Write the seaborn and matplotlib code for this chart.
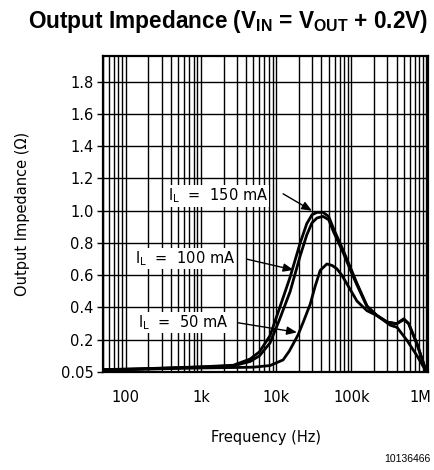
import numpy as np
import pandas as pd
import matplotlib
matplotlib.use("Agg")
import matplotlib.pyplot as plt
import matplotlib.transforms as mtransforms
import seaborn as sns
from matplotlib.ticker import FixedLocator, NullFormatter, LogLocator

# ---------------- data ----------------
freq_150 = [50, 100, 300, 1000, 2700, 4500, 6000, 8300, 11000, 15400, 20900,
            25600, 30000, 35000, 42000, 50000, 58000, 78000, 100000, 119000,
            162000, 220000, 300000, 400000, 500000, 580000, 750000, 1000000]
z_150 = [0.015, 0.018, 0.024, 0.032, 0.042, 0.08, 0.125, 0.225, 0.39, 0.59, 0.80,
         0.92, 0.975, 0.99, 0.99, 0.965, 0.89, 0.755, 0.635, 0.55,
         0.41, 0.35, 0.31, 0.30, 0.33, 0.30, 0.176, 0.0]

freq_100 = [50, 100, 300, 1000, 2700, 4500, 6000, 8300, 11000, 15400, 20900,
            25600, 30000, 35000, 42000, 50000, 58000, 78000, 100000, 119000,
            162000, 220000, 300000, 400000, 500000, 580000, 750000, 1000000]
z_100 = [0.014, 0.017, 0.023, 0.031, 0.038, 0.065, 0.10, 0.18, 0.32, 0.50, 0.72,
         0.85, 0.925, 0.955, 0.965, 0.945, 0.87, 0.74, 0.62, 0.54,
         0.405, 0.35, 0.31, 0.298, 0.325, 0.30, 0.17, 0.0]

freq_50 = [50, 100, 300, 1000, 3000, 5000, 8300, 12400, 15000, 19600, 23000,
           28400, 33000, 38600, 47400, 56000, 64400, 75000, 87700, 119000,
           162000, 220000, 331000, 406000, 553000, 751000, 1000000]
z_50 = [0.012, 0.014, 0.02, 0.025, 0.028, 0.03, 0.04, 0.075, 0.13, 0.23, 0.31,
        0.42, 0.53, 0.63, 0.67, 0.66, 0.64, 0.60, 0.546, 0.44,
        0.38, 0.35, 0.29, 0.277, 0.195, 0.10, 0.0]

series_labels = ["150 mA", "100 mA", "50 mA"]
ytick_vals = [0.0, 0.2, 0.4, 0.6, 0.8, 1.0, 1.2, 1.4, 1.6, 1.8]
ytick_labels = ["0.05", "0.2", "0.4", "0.6", "0.8", "1.0", "1.2", "1.4", "1.6", "1.8"]
xtick_vals = [100, 1000, 10000, 100000, 1000000]
xtick_labels = ["100", "1k", "10k", "100k", "1M"]

df = pd.concat([
    pd.DataFrame({"freq": freq_150, "z": z_150, "load": series_labels[0]}),
    pd.DataFrame({"freq": freq_100, "z": z_100, "load": series_labels[1]}),
    pd.DataFrame({"freq": freq_50, "z": z_50, "load": series_labels[2]}),
])

# ---------------- style ----------------
sns.set_style("white")
plt.rcParams["font.family"] = ["DejaVu Sans"]
plt.rcParams["text.color"] = "black"
plt.rcParams["axes.labelcolor"] = "black"
plt.rcParams["xtick.color"] = "black"
plt.rcParams["ytick.color"] = "black"

fig = plt.figure(figsize=(4.35, 4.70), dpi=100)
ax = fig.add_axes([0.237, 0.2085, 0.747, 0.6725])

sns.lineplot(data=df, x="freq", y="z", hue="load", hue_order=series_labels,
             palette=["black", "black", "black"], linewidth=2.0, legend=False,
             sort=False, ax=ax, zorder=3)

ax.set_xscale("log")
ax.set_xlim(50, 1.05e6)
ax.set_ylim(0, 1.96)

ax.xaxis.set_major_locator(FixedLocator(xtick_vals))
ax.xaxis.set_minor_locator(LogLocator(base=10, subs=np.arange(2, 10)))
ax.xaxis.set_minor_formatter(NullFormatter())
ax.set_xticks(xtick_vals)
ax.set_xticklabels(xtick_labels)
ax.set_yticks(ytick_vals)
ax.set_yticklabels(ytick_labels)

ax.grid(True, which="both", axis="x", color="black", linewidth=1.0)
ax.grid(True, which="major", axis="y", color="black", linewidth=1.0)
ax.set_axisbelow(True)

ax.tick_params(axis="x", which="both", length=0, pad=13, labelsize=10.5,
               labelcolor="black")
ax.tick_params(axis="y", which="major", length=4, width=1, direction="out",
               pad=3, labelsize=10.5, left=True, color="black", labelcolor="black")
ax.tick_params(axis="y", which="minor", length=0)

last = ax.get_xticklabels()[-1]
last.set_transform(last.get_transform() +
                   mtransforms.ScaledTranslation(-6 / 100, 0, fig.dpi_scale_trans))

for s in ax.spines.values():
    s.set_color("black")
    s.set_linewidth(1.6)

ax.set_xlabel("Frequency (Hz)", fontsize=10.5, labelpad=18, color="black")
ax.set_ylabel("Output Impedance (\u03a9)", fontsize=10.5, labelpad=22, color="black")

ax.set_title(r"Output Impedance (V$_\mathregular{IN}$ = V$_\mathregular{OUT}$ + 0.2V)",
             fontsize=16.3, fontweight="bold", family="Liberation Sans",
             x=0.385, pad=20, color="black")

lab_kw = dict(fontsize=10.5, ha="left", va="center", zorder=5, color="black",
              bbox=dict(facecolor="white", edgecolor="none", pad=1.0))
ax.text(363, 1.093, r"I$_\mathregular{L}$  =  150 mA", **lab_kw)
ax.text(132, 0.703, r"I$_\mathregular{L}$  =  100 mA", **lab_kw)
ax.text(145, 0.306, r"I$_\mathregular{L}$  =  50 mA", **lab_kw)

arr = dict(arrowstyle="-|>,head_length=0.6,head_width=0.25", color="black",
           lw=1.0, shrinkA=0, shrinkB=0)
ax.annotate("", xy=(30000, 1.0), xytext=(12400, 1.105), arrowprops=arr, zorder=6)
ax.annotate("", xy=(17000, 0.633), xytext=(4060, 0.70), arrowprops=arr, zorder=6)
ax.annotate("", xy=(18900, 0.246), xytext=(3140, 0.305), arrowprops=arr, zorder=6)

fig.text(0.99, 0.013, "10136466", ha="right", va="bottom", fontsize=7.5,
         family="Liberation Sans", color="black")

fig.savefig("out.png", dpi=100)
